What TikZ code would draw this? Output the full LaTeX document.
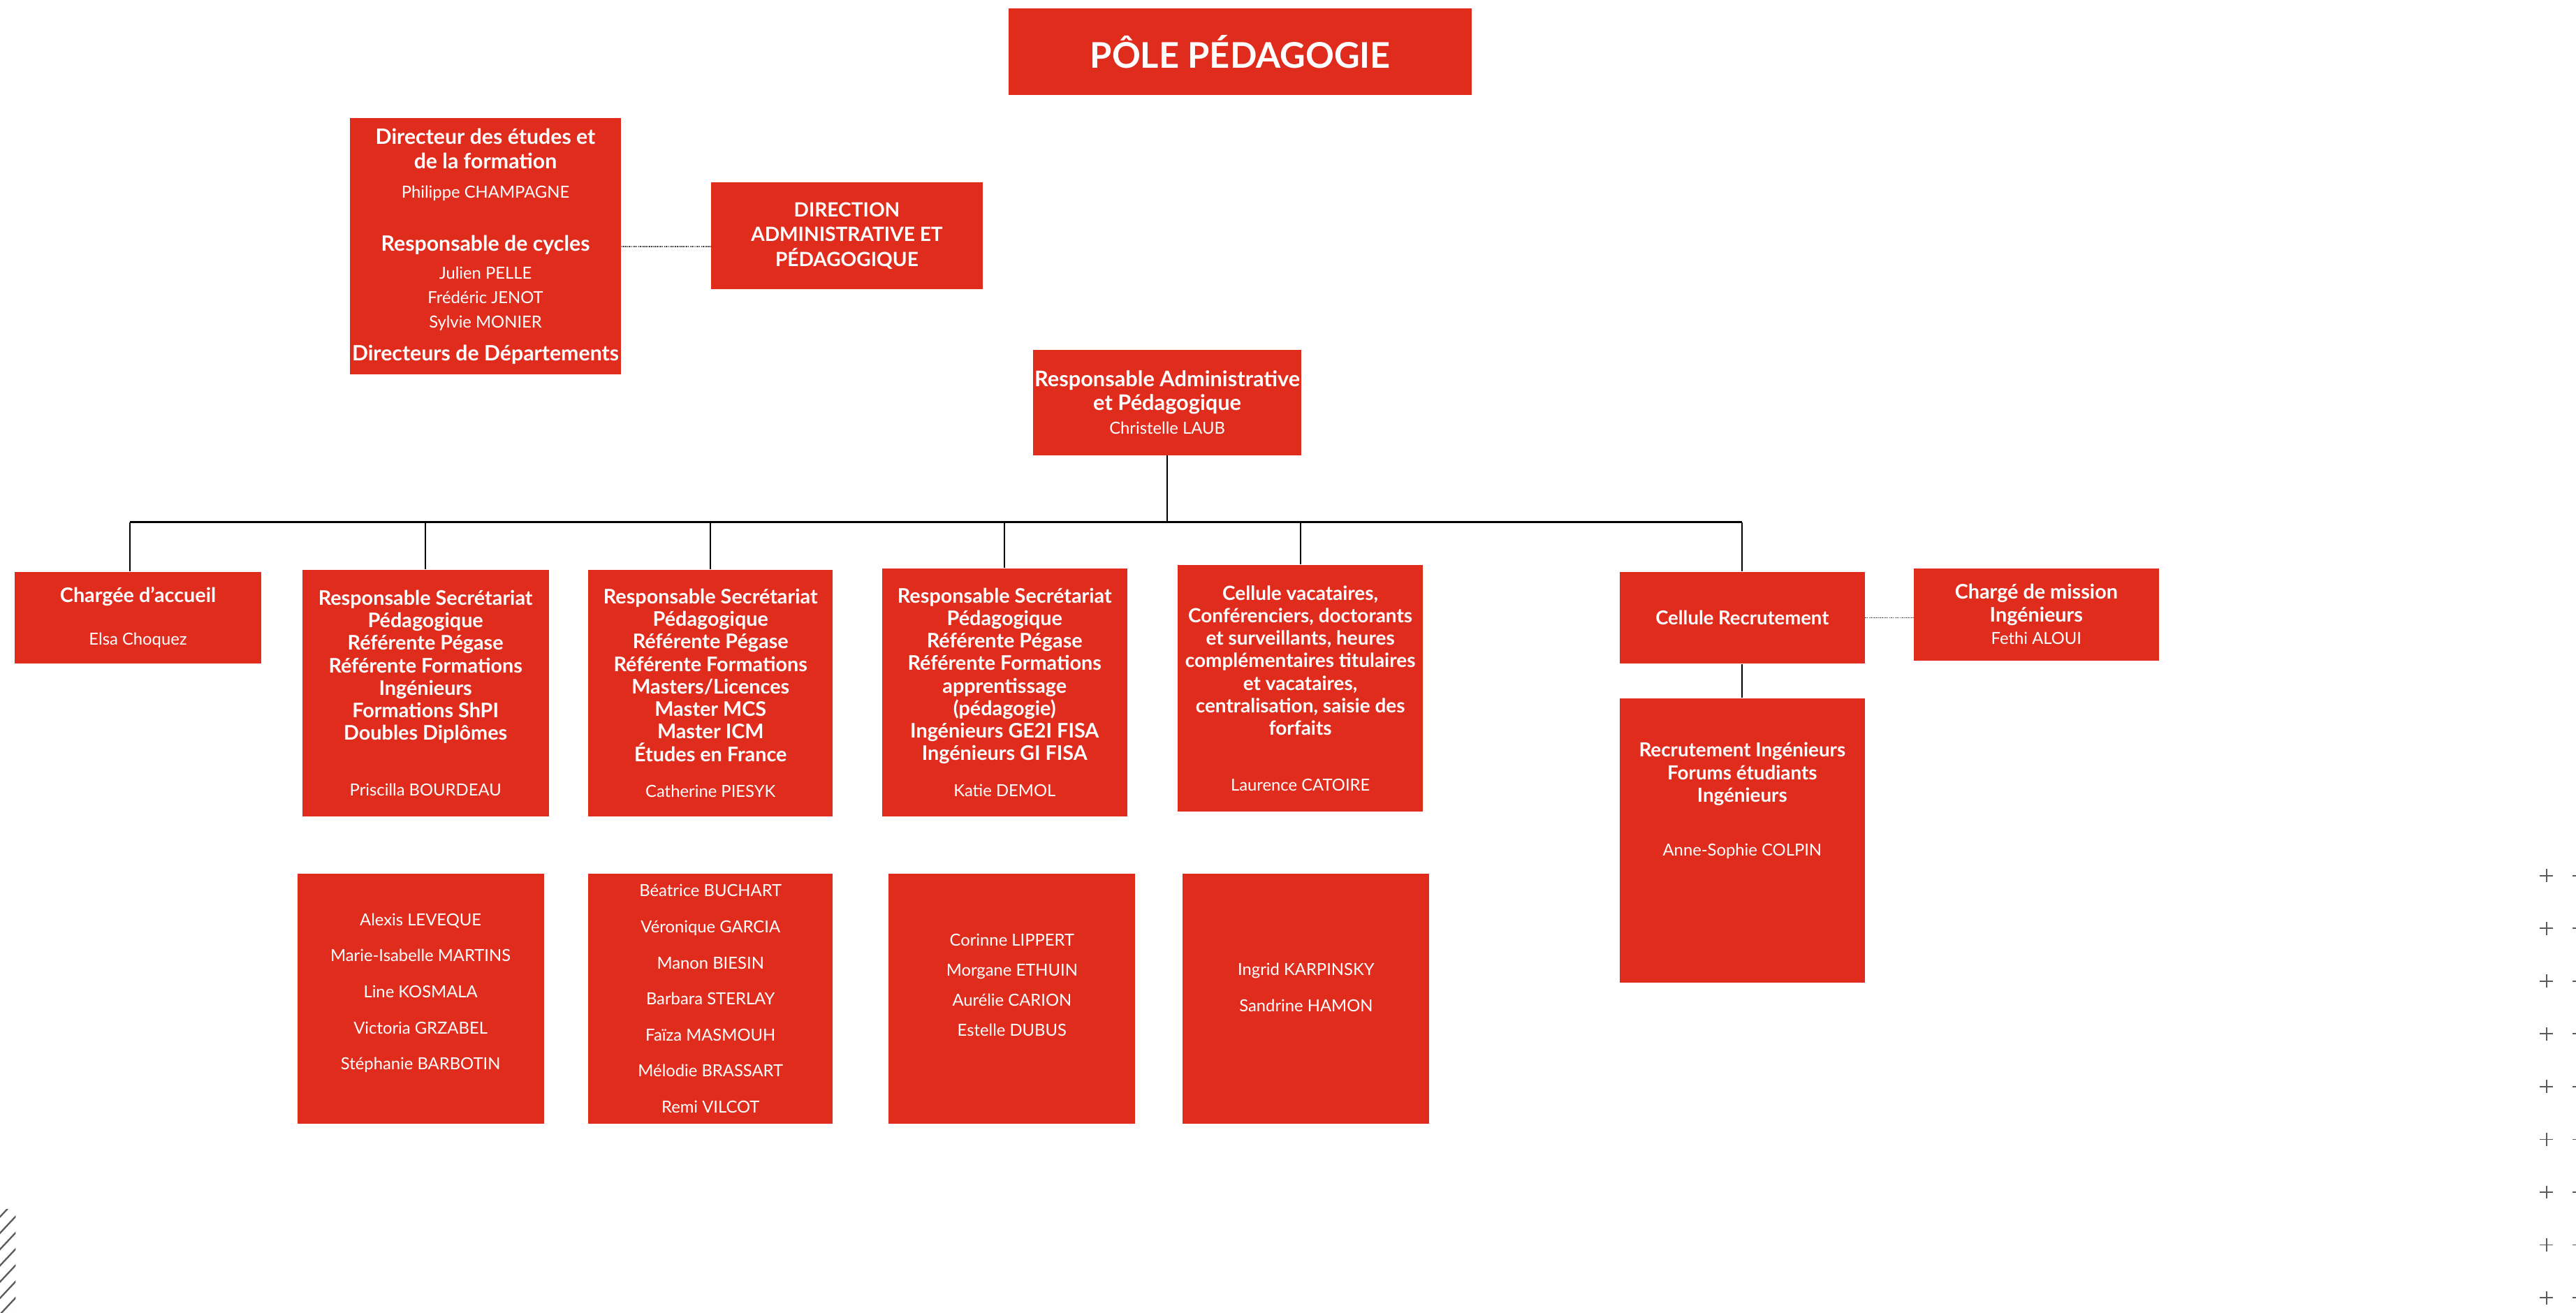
\documentclass[tikz,border=0pt]{standalone}
\usepackage{fontspec}
\setmainfont{Lato}
\usetikzlibrary{calc}
\definecolor{rouge}{RGB}{224,44,29}
\definecolor{gris}{RGB}{90,90,90}
\newcommand{\nom}[1]{{\fontsize{7.2}{9.75}\selectfont\mdseries #1}}
\tikzset{
	taille/.style 2 args={minimum width=#1*0.025cm, minimum height=#2*0.025cm},
	boite/.style={fill=rouge, text=white, align=center, inner sep=0pt, font=\fontsize{8.7}{9.75}\selectfont\bfseries},
	liste/.style={boite, font=\fontsize{7.2}{15.6}\selectfont},
	texte/.style={text=white, align=center, inner sep=0pt, font=\fontsize{8.4}{9.75}\selectfont\bfseries},
	trait/.style={line width=0.55pt},
	bus/.style={line width=0.9pt},
	pointille/.style={black!75, line width=0.45pt, dash pattern=on 0.45pt off 0.35pt},
	croix/.style={gris, line width=0.55pt},
	hachure/.style={gris, line width=0.7pt}
}

\begin{document}
\begin{tikzpicture}[x=0.025cm, y=-0.025cm]
	\useasboundingbox (0,0) rectangle (1568,799);

	\node[boite, taille={282}{53}, font=\fontsize{15.3}{18}\selectfont\bfseries] (titre) at (755,31.5) {PÔLE PÉDAGOGIE};

	\node[boite, taille={165}{156}, font=\fontsize{9.15}{10.7}\selectfont\bfseries] (dir) at (295.5,150) {Directeur des études et\\de la formation\\[2.1pt]\nom{Philippe CHAMPAGNE}\\[12.1pt]Responsable de cycles\\[1.4pt]\nom{Julien PELLE}\\\nom{Frédéric JENOT}\\\nom{Sylvie MONIER}\\[3.5pt]Directeurs de Départements};
	\node[boite, taille={165}{65}, font=\fontsize{8.5}{10.7}\selectfont\bfseries] (dap) at (515.5,143.5) {DIRECTION\\ADMINISTRATIVE ET\\PÉDAGOGIQUE};
	\node[boite, taille={163}{64}, font=\fontsize{9.3}{10.3}\selectfont\bfseries] (rap) at (710.5,245) {Responsable Administrative\\et Pédagogique\\\nom{Christelle LAUB}};

	\node[boite, taille={150}{56}] (accueil) at (84,376) {Chargée d’accueil\\[8.7pt]\nom{Elsa Choquez}};
	\node[boite, taille={150}{150}] (sec1) at (259,422) {Responsable Secrétariat\\Pédagogique\\Référente Pégase\\Référente Formations\\Ingénieurs\\Formations ShPI\\Doubles Diplômes\\[14.4pt]\nom{Priscilla BOURDEAU}};
	\node[boite, taille={149}{150}] (sec2) at (432.5,422) {Responsable Secrétariat\\Pédagogique\\Référente Pégase\\Référente Formations\\Masters/Licences\\Master MCS\\Master ICM\\Études en France\\[5.9pt]\nom{Catherine PIESYK}};
	\node[boite, taille={149}{151}] (sec3) at (611.5,421.5) {Responsable Secrétariat\\Pédagogique\\Référente Pégase\\Référente Formations\\apprentissage\\(pédagogie)\\Ingénieurs GE2I FISA\\Ingénieurs GI FISA\\[5.9pt]\nom{Katie DEMOL}};
	\node[boite, taille={149}{150}, font=\fontsize{8.45}{9.75}\selectfont\bfseries] (vac) at (791.5,419) {Cellule vacataires,\\Conférenciers, doctorants\\et surveillants, heures\\complémentaires titulaires\\et vacataires,\\centralisation, saisie des\\forfaits\\[14.4pt]\nom{Laurence CATOIRE}};
	\node[boite, taille={149}{56}, font=\fontsize{8.3}{9.75}\selectfont\bfseries] (celrec) at (1060.5,376) {Cellule Recrutement};
	\node[boite, taille={149}{56}] (mission) at (1239.5,374) {Chargé de mission\\Ingénieurs\\\nom{Fethi ALOUI}};
	\node[boite, taille={149}{173}] (recing) at (1060.5,511.5) {};
	\node[texte] (recingtxt) at (1060.5,487.5) {Recrutement Ingénieurs\\Forums étudiants\\Ingénieurs\\[13.7pt]\nom{Anne-Sophie COLPIN}};

	\node[liste, taille={150}{152}] (eq1) at (256,608) {};
	\node[texte, font=\fontsize{7.2}{15.6}\selectfont] (eq1txt) at (256,604.5) {Alexis LEVEQUE\\Marie-Isabelle MARTINS\\Line KOSMALA\\Victoria GRZABEL\\Stéphanie BARBOTIN};
	\node[liste, taille={149}{152}] (eq2) at (432.5,608) {Béatrice BUCHART\\Véronique GARCIA\\Manon BIESIN\\Barbara STERLAY\\Faïza MASMOUH\\Mélodie BRASSART\\Remi VILCOT};
	\node[liste, taille={150}{152}] (eq3) at (616,608) {};
	\node[texte, font=\fontsize{7.2}{13}\selectfont] (eq3txt) at (616,599.5) {Corinne LIPPERT\\Morgane ETHUIN\\Aurélie CARION\\Estelle DUBUS};
	\node[liste, taille={150}{152}] (eq4) at (795,608) {};
	\node[texte, font=\fontsize{7.2}{15.6}\selectfont] (eq4txt) at (795,601) {Ingrid KARPINSKY\\Sandrine HAMON};

	\coordinate (bus) at (0,318);
	\coordinate (accueilh) at ($(accueil.north)+(-5,0)$);
	\draw[bus] (accueilh |- bus) -- (celrec.north |- bus);
	\draw[trait] (rap.south) -- (rap.south |- bus);
	\foreach \b in {accueilh,sec1.north,sec2.north,sec3.north,vac.north,celrec.north}
		\draw[trait] (\b) -- (\b |- bus);
	\draw[trait] (celrec.south) -- (recing.north);
	\draw[pointille] (dir.east) -- (dir.east -| dap.west);
	\draw[pointille] (celrec.east) -- (celrec.east -| mission.west);

	\foreach \k in {0,...,8}
		\foreach \x in {1550,1570}
			\draw[croix] (\x-4,{533+32.125*\k}) -- (\x+4,{533+32.125*\k}) (\x,{529+32.125*\k}) -- (\x,{537+32.125*\k});

	\begin{scope}
		\clip (0,736) rectangle (9.5,799);
		\foreach \k in {-1,...,7}
			\draw[hachure] (-2,{752.8+9.9*\k}) -- (11.5,{738.4+9.9*\k});
	\end{scope}
\end{tikzpicture}
\end{document}
